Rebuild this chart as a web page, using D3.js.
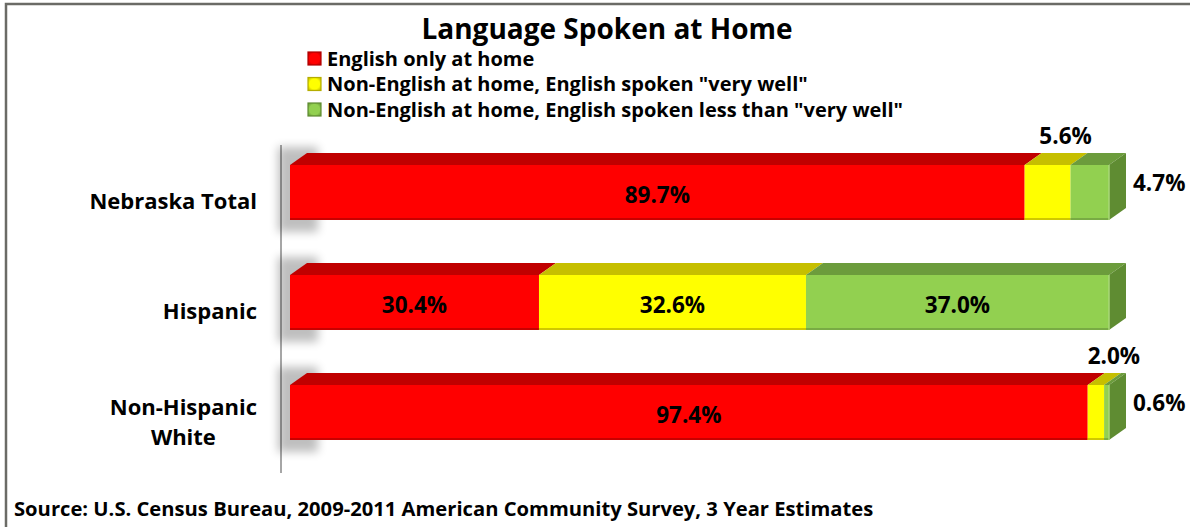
<!DOCTYPE html>
<html>
<head>
<meta charset="utf-8">
<script src="https://cdn.jsdelivr.net/npm/d3@7"></script>
<style>
  html, body { margin: 0; padding: 0; background: #fff; }
  svg { display: block; }
  text { font-family: "Open Sans", Lato, sans-serif; font-weight: bold; fill: #000; }
</style>
</head>
<body>
<svg id="chart" width="1190" height="527"></svg>
<script>
// Survey categories (top to bottom)
const categories = ["Nebraska Total", "Hispanic", "Non-Hispanic White"];
// Series values, percent of each group
const englishOnly   = [89.7, 30.4, 97.4];
const veryWell      = [5.6, 32.6, 2.0];
const lessVeryWell  = [4.7, 37.0, 0.6];
const seriesNames = [
  "English only at home",
  "Non-English at home, English spoken \"very well\"",
  "Non-English at home, English spoken less than \"very well\""
];
const seriesValues = [englishOnly, veryWell, lessVeryWell];

const palette = [
  { front: "#ff0000", top: "#c00000", side: "#b00000", edge: "#c80000" },
  { front: "#ffff00", top: "#c6bf00", side: "#b5ad00", edge: "#d0c800" },
  { front: "#92d050", top: "#6c9c3c", side: "#5f8c32", edge: "#78ab44" }
];

const svg = d3.select("#chart");
const W = 1190, H = 527;

// Outer frame (top and left edges visible)
svg.append("rect").attr("x", 6).attr("y", 4).attr("width", W + 20).attr("height", H + 20)
  .attr("fill", "#fff").attr("stroke", "#6b6b66").attr("stroke-width", 2.5);

const defs = svg.append("defs");
defs.append("filter").attr("id", "soft").attr("x", "-50%").attr("y", "-50%").attr("width", "200%").attr("height", "200%")
  .append("feGaussianBlur").attr("stdDeviation", 5);

// Bevelled legend swatches
palette.forEach((c, i) => {
  const g = defs.append("radialGradient").attr("id", "sw" + i).attr("cx", "50%").attr("cy", "50%").attr("r", "70%");
  g.append("stop").attr("offset", "0%").attr("stop-color", c.front);
  g.append("stop").attr("offset", "55%").attr("stop-color", c.front);
  g.append("stop").attr("offset", "100%").attr("stop-color", c.side);
});

const x = d3.scaleLinear().domain([0, 100]).range([290, 1109]);
const y = d3.scaleBand().domain(categories).range([137.5, 467.5]).paddingInner(0.5).paddingOuter(0.25);
const dx = 17, dy = 12;

// Title
svg.append("text").attr("x", 607).attr("y", 39).attr("text-anchor", "middle")
  .style("font-size", "28px").text("Language Spoken at Home");

// Legend
const legend = svg.append("g");
seriesNames.forEach((name, i) => {
  const cy = 58.5 + i * 25.5;
  const c = palette[i];
  legend.append("rect").attr("x", 308).attr("y", cy - 6.5).attr("width", 13).attr("height", 13)
    .attr("fill", "url(#sw" + i + ")").attr("stroke", c.side).attr("stroke-width", 1.2);
  legend.append("text").attr("x", 327).attr("y", cy + 7).style("font-size", "20px").text(name);
});

// Category axis line
svg.append("line").attr("x1", 281).attr("x2", 281).attr("y1", 145).attr("y2", 473)
  .attr("stroke", "#a6a6a6").attr("stroke-width", 2);

// Category labels
const catLabels = svg.append("g").style("font-size", "22px");
categories.forEach(cat => {
  const cy = y(cat) + y.bandwidth() / 2;
  if (cat === "Non-Hispanic White") {
    const first = catLabels.append("text").attr("x", 257).attr("y", cy + 2).attr("text-anchor", "end").text("Non-Hispanic");
    const bb = first.node().getBBox();
    catLabels.append("text").attr("x", bb.x + bb.width / 2).attr("y", cy + 32).attr("text-anchor", "middle").text("White");
  } else {
    catLabels.append("text").attr("x", 257).attr("y", cy + 16.5).attr("text-anchor", "end").text(cat);
  }
});

// Stacked 3D bars
const bars = svg.append("g");
categories.forEach((cat, ci) => {
  const y0 = y(cat), h = y.bandwidth();
  // soft shadow on the left
  bars.append("rect").attr("x", x(0) - 12).attr("y", y0 - dy - 6).attr("width", 40).attr("height", h + dy + 18)
    .attr("fill", "#000").attr("opacity", 0.25).attr("filter", "url(#soft)");
  let acc = 0;
  const segs = seriesValues.map((vals, si) => {
    const s = { si, v: vals[ci], a: acc, b: acc + vals[ci] };
    acc += vals[ci];
    return s;
  });
  segs.forEach(s => {
    const c = palette[s.si];
    const xa = x(s.a), xb = x(s.b);
    bars.append("polygon")
      .attr("points", [[xa, y0], [xa + dx, y0 - dy], [xb + dx, y0 - dy], [xb, y0]].join(" "))
      .attr("fill", c.top);
    bars.append("rect").attr("x", xa).attr("y", y0).attr("width", xb - xa).attr("height", h).attr("fill", c.front);
    bars.append("rect").attr("x", xa).attr("y", y0 + h - 2).attr("width", xb - xa).attr("height", 2).attr("fill", c.edge);
  });
  const last = segs[segs.length - 1];
  const xe = x(last.b), cl = palette[last.si];
  bars.append("polygon")
    .attr("points", [[xe, y0], [xe + dx, y0 - dy], [xe + dx, y0 + h - dy], [xe, y0 + h]].join(" "))
    .attr("fill", cl.side);
  bars.append("line").attr("x1", xe).attr("x2", xe).attr("y1", y0).attr("y2", y0 + h)
    .attr("stroke", "#a8d878").attr("stroke-width", 1.5);
});

// Value labels
const labels = svg.append("g").style("font-size", "22.5px");
categories.forEach((cat, ci) => {
  const y0 = y(cat), h = y.bandwidth(), cy = y0 + h / 2;
  let acc = 0;
  seriesValues.forEach((vals, si) => {
    const v = vals[ci], a = acc, b = acc + v;
    acc = b;
    const txt = v.toFixed(1) + "%";
    if (v >= 15) {
      labels.append("text").attr("x", (x(a) + x(b)) / 2).attr("y", cy + 10.5).attr("text-anchor", "middle").text(txt);
    } else if (si === 1) {
      labels.append("text").attr("x", (x(a) + x(b)) / 2 + dx + 1).attr("y", y0 - 21).attr("text-anchor", "middle").text(txt);
    } else {
      labels.append("text").attr("x", x(b) + dx + 7).attr("y", cy - 1.5).attr("text-anchor", "start").text(txt);
    }
  });
});

// Source note
svg.append("text").attr("x", 14).attr("y", 516).style("font-size", "20.2px")
  .text("Source: U.S. Census Bureau, 2009-2011 American Community Survey, 3 Year Estimates");
</script>
</body>
</html>
